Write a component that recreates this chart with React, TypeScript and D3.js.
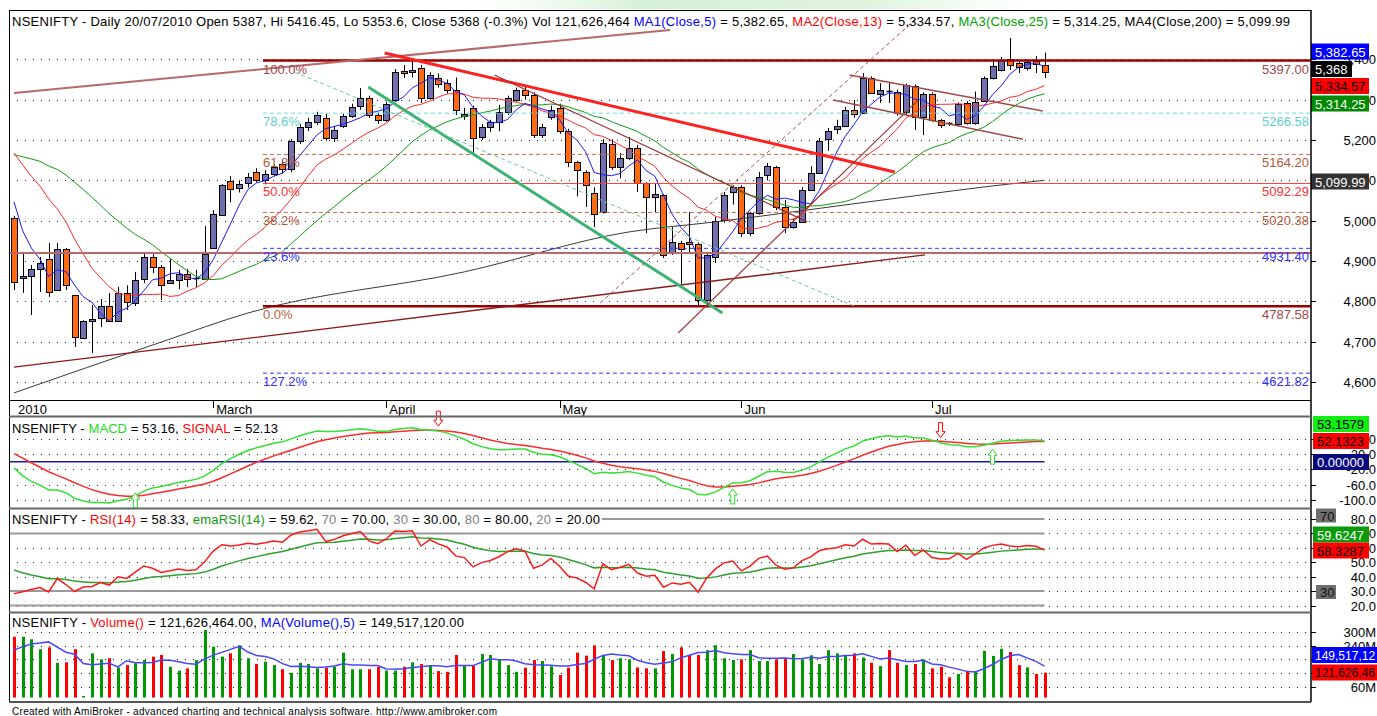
import React from 'react';
import * as d3 from 'd3';

const W = 1377;
const H = 716;
const FONT = '"Liberation Sans", Arial, Helvetica, sans-serif';

// ---------------- data ----------------
const opens = [5007,4858,4863,4880,4905,4828,4930,4816,4709,4752,4759,4788,4751,4821,4796,4855,4910,4885,4845,4853,4868,4856,4855,4932,5014,5098,5081,5093,5120,5100,5116,5140,5128,5198,5231,5245,5255,5205,5235,5260,5284,5304,5262,5250,5300,5371,5368,5378,5304,5354,5341,5324,5260,5279,5207,5232,5245,5269,5300,5324,5312,5212,5257,5279,5222,5145,5121,5069,5021,5190,5133,5155,5180,5093,5059,5064,4920,4945,4946,4942,4803,4910,5002,5071,5083,4969,5019,5113,5133,5034,4984,4997,5076,5118,5202,5227,5235,5274,5267,5354,5314,5322,5319,5269,5334,5257,5314,5250,5241,5240,5292,5242,5297,5354,5374,5401,5391,5378,5396,5387];
const highs = [5012,4922,4890,4910,4945,4945,4932,4816,4753,4791,4806,4821,4836,4840,4873,4922,4917,4890,4907,4878,4880,4878,4987,5026,5091,5111,5100,5118,5130,5125,5140,5148,5202,5240,5255,5270,5265,5235,5265,5290,5329,5310,5268,5295,5376,5386,5399,5386,5368,5365,5350,5355,5280,5285,5240,5250,5287,5310,5330,5335,5318,5240,5285,5290,5228,5148,5125,5083,5202,5202,5168,5207,5188,5095,5093,5066,4984,4950,5021,4946,4920,5009,5071,5088,5088,5022,5121,5143,5136,5051,5005,5083,5135,5205,5230,5250,5282,5299,5366,5358,5341,5341,5325,5340,5338,5318,5318,5252,5245,5293,5296,5320,5358,5396,5406,5453,5394,5396,5408,5416.45];
const lows = [4828,4821,4766,4823,4811,4828,4828,4687,4707,4672,4736,4749,4751,4779,4788,4845,4870,4803,4845,4830,4835,4835,4855,4932,5014,5046,5070,5082,5095,5090,5110,5118,5120,5190,5222,5238,5198,5195,5230,5255,5275,5255,5240,5245,5295,5354,5355,5292,5300,5330,5315,5262,5250,5168,5200,5220,5222,5262,5295,5300,5205,5205,5250,5215,5133,5060,5034,4984,5018,5126,5105,5150,5071,4969,5021,4907,4915,4840,4922,4786,4796,4895,4995,5040,4960,4962,5015,5100,5026,4969,4980,4995,5074,5116,5173,5215,5232,5255,5265,5314,5292,5292,5260,5262,5225,5212,5245,5230,5235,5236,5238,5238,5295,5350,5370,5374,5366,5372,5366,5353.6];
const closes = [4848,4863,4880,4895,4823,4930,4840,4712,4751,4756,4788,4751,4821,4798,4853,4910,4885,4840,4853,4868,4855,4859,4917,5017,5088,5079,5091,5108,5102,5116,5134,5128,5198,5231,5245,5262,5205,5225,5260,5282,5304,5262,5249,5290,5368,5366,5374,5304,5361,5339,5323,5274,5264,5205,5232,5245,5269,5304,5324,5312,5212,5232,5274,5222,5145,5126,5088,5017,5193,5133,5155,5180,5093,5059,5066,4915,4947,4930,4943,4803,4915,5000,5064,5083,4969,5019,5108,5135,5034,4984,4997,5076,5118,5198,5222,5235,5274,5264,5354,5317,5324,5320,5267,5336,5257,5314,5250,5237,5239,5289,5242,5294,5354,5383,5398,5386,5381,5393,5388,5368];
// volume in millions
const volumes = [278,278,267,224,232,165,167,224,21,206,180,185,145,155,163,177,192,199,148,131,141,177,307,235,192,206,241,185,160,170,155,137,122,165,160,141,144,148,209,137,137,137,148,131,131,148,167,160,155,129,126,199,155,155,203,199,180,155,126,144,177,173,150,112,144,209,196,241,195,177,185,180,145,141,141,216,203,232,198,199,220,241,185,177,180,220,173,173,180,185,203,180,198,160,220,206,199,206,188,165,151,220,165,155,160,180,141,148,102,117,131,129,217,195,226,212,155,145,117,122];
// closes / volumes before the first visible bar (estimated from where the averages start)
const priorCloses = [4990,5010,5045,5110,5145,5180,5169,5201,5232,5278,5281,5263,5244,5249,5210,5233,5259,5252,5274,5226,5221,5094,5036,5034];
const priorVolumes = [200,210,205,206];
// indicator states just before the first bar (read from starting levels)
const macdSeed = [5190, 5178, 30]; // ema12, ema26, signal
const rsiSeed = [19, 34, 47.2]; // avgGain, avgLoss, emaRSI
// 200-day MA read at a few bars
const ma200Bars = [0, 17, 27, 52, 71, 81, 102, 115, 119];
const ma200Values = [4573, 4699, 4771, 4873, 4972, 4997, 5056, 5091, 5100];

const monthLabels = ['2010', 'March', 'April', 'May', 'Jun', 'Jul'];
const monthBars = [0, 23, 43, 63, 84, 106];
const priceTicks = [5400, 5300, 5200, 5100, 5000, 4900, 4800, 4700, 4600];
const macdTicks = [60, 20, -20, -60, -100];
const rsiTicks = [80, 70, 60, 50, 40, 30, 20];
const rsiBands = [80, 70, 30, 20];
const volTicks = [300, 240, 180, 120, 60];
const volTickLabels = ['300M', '240M', '', '', '60M'];

const fibLabels = ['100.0%', '78.6%', '61.8%', '50.0%', '38.2%', '23.6%', '0.0%', '127.2%'];
const fibPrices = [5397.0, 5266.58, 5164.2, 5092.29, 5020.38, 4931.4, 4787.58, 4621.82];
const fibStartBar = 28.75;
const fibColors = ['#990000', '#66dede', '#cc6a44', '#ff3b3b', '#cc6a44', '#3535ff', '#990000', '#3535ff'];
const fibTextColors = ['#a04848', '#5fd0d0', '#b4583a', '#ff3030', '#b4583a', '#3030ff', '#a04848', '#3030ff'];
const fibLeftTextColors = ['#a04848', '#5fd0d0', '#b4583a', '#ff3030', '#b4583a', '#3030ff', '#b4643c', '#3030ff'];
const fibDash = ['', '4 3', '4 3', '', '4 3', '4 3', '', '4 3'];
const fibWidth = [2.5, 1, 1, 1, 1, 1, 2.5, 1];

// drawn studies: [bar1, price1, bar2, price2]
const trendLines = [
  { pts: [0, 5316.5, 75.75, 5472.7], color: '#b86a6a', w: 2, dash: '' },
  { pts: [0, 4637, 105.2, 4915], color: '#8b1a1a', w: 1.3, dash: '' },
  { pts: [42.8, 5415.7, 101.7, 5120.7], color: '#ff2020', w: 3, dash: '' },
  { pts: [40.9, 5331.4, 81.8, 4771], color: '#3cb371', w: 3, dash: '' },
  { pts: [32.4, 5368.6, 97.3, 4786], color: '#66cc99', w: 1, dash: '4 3' },
  { pts: [67.7, 4795.9, 104.4, 5505], color: '#b05050', w: 1, dash: '4 3' },
  { pts: [76.7, 4721.5, 104.4, 5299], color: '#a03a3a', w: 1.2, dash: '' },
  { pts: [55.5, 5361, 91.6, 4997], color: '#9b3030', w: 1.2, dash: '' },
  { pts: [96.5, 5361, 118.8, 5272], color: '#a04848', w: 1.5, dash: '' },
  { pts: [94.6, 5299, 116.5, 5202], color: '#a04848', w: 1.5, dash: '' },
];
const horizLinePrice = 4920;
const sellBars = [49, 107];
const buyBars = [14, 83, 113];

// ---------------- helpers ----------------
const sma = (series: number[], prior: number[], n: number) => {
  const all = [...prior, ...series];
  const off = prior.length;
  return series.map((_, i) => {
    let s = 0;
    for (let k = off + i - n + 1; k <= off + i; k++) s += all[k];
    return s / n;
  });
};
const emaSeeded = (series: number[], n: number, seed: number) => {
  const k = 2 / (n + 1);
  let e = seed;
  return series.map((v) => (e = e + k * (v - e)));
};

const ma5 = sma(closes, priorCloses, 5);
const ma13 = sma(closes, priorCloses, 13);
const ma25 = sma(closes, priorCloses, 25);
const volMa = sma(volumes, priorVolumes, 5);
const ema12 = emaSeeded(closes, 12, macdSeed[0]);
const ema26 = emaSeeded(closes, 26, macdSeed[1]);
const macd = ema12.map((v, i) => v - ema26[i]);
const signal = emaSeeded(macd, 9, macdSeed[2]);
const rsi = (() => {
  let ag = rsiSeed[0];
  let al = rsiSeed[1];
  let prev = priorCloses[priorCloses.length - 1];
  return closes.map((c) => {
    const ch = c - prev;
    prev = c;
    ag = (ag * 13 + Math.max(ch, 0)) / 14;
    al = (al * 13 + Math.max(-ch, 0)) / 14;
    return 100 - 100 / (1 + ag / al);
  });
})();
const emaRsi = emaSeeded(rsi, 14, rsiSeed[2]);

const L = 9;
const R = 1311;

function Box({ x, y, w, h = 16, bg, fg, text, fs = 13, pad = 4 }: any) {
  return (
    <g>
      <rect x={x} y={y - h / 2} width={w} height={h} fill={bg} />
      <text x={x + pad} y={y + 0.5} dominantBaseline="central" fill={fg} fontSize={fs}>{text}</text>
    </g>
  );
}

export default function App() {
  const n = closes.length;
  const x = d3.scaleLinear().domain([0, n - 1]).range([14, 1044.5]);
  const yP = d3.scaleLinear().domain([5200, 4600]).range([140, 382]);
  const yM = d3.scaleLinear().domain([60, -100]).range([438.5, 500.2]);
  const yR = d3.scaleLinear().domain([80, 20]).range([519, 605.5]);
  const yV = d3.scaleLinear().domain([300, 60]).range([631.7, 687]);
  const volBase = 697.5;
  const crisp = (v: number) => Math.round(v) + 0.5;

  const mkLine = (ys: (v: number) => number) => d3.line<number>().x((_, i) => x(i)).y((v) => ys(v));
  const ma200Path = d3
    .line<[number, number]>()
    .x((d) => x(d[0]))
    .y((d) => yP(d[1]))
    .curve(d3.curveMonotoneX)(ma200Bars.map((b, i) => [b, ma200Values[i]] as [number, number]));

  const dotted = (y: number, key: string, x1 = L, x2 = R) => (
    <line key={key} x1={x1} x2={x2} y1={crisp(y)} y2={crisp(y)} stroke="#222" strokeDasharray="1 7" strokeWidth={1} shapeRendering="crispEdges" />
  );
  const tick = (y: number, key: string) => (
    <line key={key} x1={R} x2={R + 5} y1={crisp(y)} y2={crisp(y)} stroke="#000" shapeRendering="crispEdges" />
  );
  const axisText = (y: number, t: string, key: string) => (
    <text key={key} x={1376} y={y + 0.5} textAnchor="end" dominantBaseline="central" fontSize={13} fill="#000">{t}</text>
  );

  const arrow = (cx: number, tip: number, down: boolean, color: string, key: string) => {
    const s = down ? -1 : 1;
    const pts = [
      [cx - 2, tip + s * 15], [cx + 2, tip + s * 15], [cx + 2, tip + s * 6], [cx + 4.5, tip + s * 6],
      [cx, tip], [cx - 4.5, tip + s * 6], [cx - 2, tip + s * 6],
    ].map((p) => p.join(',')).join(' ');
    return <polygon key={key} points={pts} fill="#fff" stroke={color} strokeWidth={1} />;
  };

  return (
    <svg width={W} height={H} style={{ position: 'absolute', left: 0, top: 0, background: '#fff', fontFamily: FONT }}>
      <defs>
        <clipPath id="clipP"><rect x={L} y={10} width={R - L} height={390} /></clipPath>
        <clipPath id="clipM"><rect x={L} y={417} width={R - L} height={91} /></clipPath>
        <clipPath id="clipR"><rect x={L} y={509} width={R - L} height={103} /></clipPath>
        <clipPath id="clipV"><rect x={L} y={613} width={R - L} height={89} /></clipPath>
        <linearGradient id="topGlow" x1="0" x2="1" y1="0" y2="0">
          <stop offset="0" stopColor="#e6f7e6" stopOpacity={0} />
          <stop offset="0.3" stopColor="#d6f2d6" stopOpacity={1} />
          <stop offset="0.7" stopColor="#dcf4dc" stopOpacity={1} />
          <stop offset="1" stopColor="#e6f7e6" stopOpacity={0} />
        </linearGradient>
      </defs>
      <rect x={0} y={0} width={W} height={H} fill="#fff" />
      <rect x={470} y={0} width={560} height={9} fill="url(#topGlow)" />

      {/* ---------- price panel ---------- */}
      {priceTicks.map((t) => dotted(yP(t), 'pg' + t))}
      <g clipPath="url(#clipP)">
        {closes.map((c, i) => {
          const o = opens[i];
          const up = c > o || (c === o && i > 0 && c >= closes[i - 1]);
          const cx = crisp(x(i));
          const top = Math.round(yP(Math.max(o, c)));
          const bot = Math.round(yP(Math.min(o, c)));
          return (
            <g key={'c' + i}>
              <line x1={cx} x2={cx} y1={yP(highs[i])} y2={yP(lows[i])} stroke="#000" strokeWidth={1} />
              {bot - top < 2 ? (
                <line x1={cx - 3} x2={cx + 3} y1={top + 0.5} y2={top + 0.5} stroke="#000" strokeWidth={1.5} />
              ) : (
                <rect x={cx - 3} y={top + 0.5} width={6} height={bot - top} fill={up ? '#6f6fb0' : '#ff6a13'} stroke="#000" strokeWidth={1} />
              )}
            </g>
          );
        })}
        <path d={ma200Path || ''} fill="none" stroke="#3a3a3a" strokeWidth={1} />
        <path d={mkLine(yP)(ma25) || ''} fill="none" stroke="#119911" strokeWidth={1} />
        <path d={mkLine(yP)(ma13) || ''} fill="none" stroke="#ff2a2a" strokeWidth={1} />
        <path d={mkLine(yP)(ma5) || ''} fill="none" stroke="#1a1aff" strokeWidth={1} />

        <line x1={L} x2={R} y1={yP(horizLinePrice)} y2={yP(horizLinePrice)} stroke="#b86a6a" strokeWidth={2} />
        {fibPrices.map((p, k) => (
          <line key={'fl' + k} x1={x(fibStartBar)} x2={R} y1={yP(p)} y2={yP(p)} stroke={fibColors[k]} strokeWidth={fibWidth[k]} strokeDasharray={fibDash[k] || undefined} />
        ))}
        {trendLines.map((t, k) => (
          <line key={'tl' + k} x1={x(t.pts[0])} y1={yP(t.pts[1])} x2={x(t.pts[2])} y2={yP(t.pts[3])} stroke={t.color} strokeWidth={t.w} strokeDasharray={t.dash || undefined} />
        ))}
        {fibPrices.map((p, k) => (
          <g key={'ft' + k}>
            <text x={x(fibStartBar)} y={yP(p) + 8.5} dominantBaseline="central" fontSize={13} fill={fibLeftTextColors[k]}>{fibLabels[k]}</text>
            <text x={R - 2} y={yP(p) + 8.5} dominantBaseline="central" textAnchor="end" fontSize={13} fill={fibTextColors[k]}>{p.toFixed(2)}</text>
          </g>
        ))}
      </g>
      <text x={12} y={21} dominantBaseline="central" fontSize={13} textLength={1278} lengthAdjust="spacing" style={{ whiteSpace: 'pre' }}>
        <tspan fill="#000">{'NSENIFTY - Daily 20/07/2010 Open 5387, Hi 5416.45, Lo 5353.6, Close 5368 (-0.3%) Vol 121,626,464 '}</tspan>
        <tspan fill="#0000ff">MA1(Close,5)</tspan>
        <tspan fill="#000">{' = 5,382.65, '}</tspan>
        <tspan fill="#ff0000">MA2(Close,13)</tspan>
        <tspan fill="#000">{' = 5,334.57, '}</tspan>
        <tspan fill="#00a000">MA3(Close,25)</tspan>
        <tspan fill="#000">{' = 5,314.25, MA4(Close,200) = 5,099.99'}</tspan>
      </text>
      {priceTicks.map((t) => tick(yP(t), 'pt' + t))}
      {priceTicks.map((t) => axisText(yP(t), d3.format(',')(t), 'pa' + t))}
      <Box x={R} y={51.5} w={58} bg="#0000ff" fg="#fff" text="5,382.65" />
      <Box x={R} y={69} w={41} bg="#000" fg="#fff" text="5,368" />
      <Box x={R} y={86} w={58} bg="#ff0000" fg="#000" text="5,334.57" />
      <Box x={R} y={103.5} w={58} bg="#008a00" fg="#fff" text="5,314.25" />
      <Box x={R} y={181.5} w={58} bg="#333" fg="#fff" text="5,099.99" />

      {/* ---------- date strip ---------- */}
      {monthBars.map((b, k) => (
        <g key={'m' + k}>
          {k > 0 && <line x1={crisp(x(b))} x2={crisp(x(b))} y1={401} y2={408} stroke="#000" shapeRendering="crispEdges" />}
          <text x={x(b) + (k === 0 ? 4 : 3)} y={409} dominantBaseline="central" fontSize={13} fill="#000">{monthLabels[k]}</text>
        </g>
      ))}

      {/* ---------- MACD panel ---------- */}
      {macdTicks.map((t) => dotted(yM(t), 'mg' + t))}
      <g clipPath="url(#clipM)">
        <line x1={L + 1} x2={x(n - 1)} y1={yM(0)} y2={yM(0)} stroke="#1a1aa0" strokeWidth={1.5} />
        <path d={mkLine(yM)(signal) || ''} fill="none" stroke="#ff2a2a" strokeWidth={1.5} />
        <path d={mkLine(yM)(macd) || ''} fill="none" stroke="#33e033" strokeWidth={1.5} />
      </g>
      {sellBars.map((b) => arrow(x(b), yM(macd[b]) - 5, true, '#ff0000', 's' + b))}
      {buyBars.map((b) => arrow(x(b), Math.min(yM(macd[b]) + 6, 493), false, '#22dd22', 'b' + b))}
      <text x={12} y={428} dominantBaseline="central" fontSize={13} textLength={266} lengthAdjust="spacing" style={{ whiteSpace: 'pre' }}>
        <tspan fill="#000">{'NSENIFTY - '}</tspan>
        <tspan fill="#22dd22">MACD</tspan>
        <tspan fill="#000">{' = 53.16, '}</tspan>
        <tspan fill="#ff0000">SIGNAL</tspan>
        <tspan fill="#000">{' = 52.13'}</tspan>
      </text>
      {macdTicks.map((t) => tick(yM(t), 'mt' + t))}
      {macdTicks.map((t) => axisText(yM(t), t.toFixed(1), 'ma' + t))}
      <Box x={R + 2} y={424} w={56} bg="#11ee11" fg="#000" text="53.1579" />
      <Box x={R + 2} y={441} w={56} bg="#ff0000" fg="#000" text="52.1323" />
      <Box x={R + 2} y={462} w={56} bg="#0a0a80" fg="#fff" text="0.00000" />

      {/* ---------- RSI panel ---------- */}
      {rsiTicks.map((t) => dotted(yR(t), 'rg' + t))}
      {rsiBands.map((t) => (
        <line key={'rb' + t} x1={L + 1} x2={x(n - 1)} y1={yR(t)} y2={yR(t)} stroke="#9a9a9a" strokeWidth={2} />
      ))}
      <g clipPath="url(#clipR)">
        <path d={mkLine(yR)(emaRsi) || ''} fill="none" stroke="#2f9f2f" strokeWidth={1.5} />
        <path d={mkLine(yR)(rsi) || ''} fill="none" stroke="#ff1a1a" strokeWidth={1.5} />
      </g>
      <rect x={10} y={512} width={592} height={14} fill="#fff" />
      <text x={12} y={519} dominantBaseline="central" fontSize={13} textLength={588} lengthAdjust="spacing" style={{ whiteSpace: 'pre' }}>
        <tspan fill="#000">{'NSENIFTY - '}</tspan>
        <tspan fill="#ff0000">RSI(14)</tspan>
        <tspan fill="#000">{' = 58.33, '}</tspan>
        <tspan fill="#119911">emaRSI(14)</tspan>
        <tspan fill="#000">{' = 59.62, '}</tspan>
        <tspan fill="#808080">70</tspan>
        <tspan fill="#000">{' = 70.00, '}</tspan>
        <tspan fill="#808080">30</tspan>
        <tspan fill="#000">{' = 30.00, '}</tspan>
        <tspan fill="#808080">80</tspan>
        <tspan fill="#000">{' = 80.00, '}</tspan>
        <tspan fill="#808080">20</tspan>
        <tspan fill="#000">{' = 20.00'}</tspan>
      </text>
      {rsiTicks.map((t) => tick(yR(t), 'rt' + t))}
      {rsiTicks.map((t) => axisText(yR(t), t.toFixed(1), 'ra' + t))}
      <Box x={R + 5} y={515.5} w={20} h={14} bg="#6e6e6e" fg="#111" text="70" />
      <Box x={R + 2} y={534.5} w={56} bg="#0a9a0a" fg="#fff" text="59.6247" />
      <Box x={R + 2} y={550.5} w={56} bg="#ff0000" fg="#000" text="58.3287" />
      <Box x={R + 5} y={592} w={20} h={14} bg="#6e6e6e" fg="#111" text="30" />

      {/* ---------- Volume panel ---------- */}
      {volTicks.map((t) => dotted(yV(t), 'vg' + t))}
      <g clipPath="url(#clipV)">
        {volumes.map((v, i) => {
          const up = closes[i] > opens[i] || (closes[i] === opens[i] && i > 0 && closes[i] >= closes[i - 1]);
          const cx = Math.round(x(i));
          return <rect key={'v' + i} x={cx - 1} y={yV(v)} width={3} height={Math.max(0, volBase - yV(v))} fill={up ? '#009a00' : '#ff0000'} />;
        })}
        <path d={mkLine(yV)(volMa) || ''} fill="none" stroke="#4646ff" strokeWidth={1.5} />
      </g>
      <text x={12} y={622} dominantBaseline="central" fontSize={13} textLength={452} lengthAdjust="spacing" style={{ whiteSpace: 'pre' }}>
        <tspan fill="#000">{'NSENIFTY - '}</tspan>
        <tspan fill="#ff0000">Volume()</tspan>
        <tspan fill="#000">{' = 121,626,464.00, '}</tspan>
        <tspan fill="#0000ff">MA(Volume(),5)</tspan>
        <tspan fill="#000">{' = 149,517,120.00'}</tspan>
      </text>
      {volTicks.map((t) => tick(yV(t), 'vt' + t))}
      {volTicks.map((t, k) => (volTickLabels[k] ? axisText(yV(t), volTickLabels[k], 'va' + t) : null))}
      <Box x={R + 1} y={655} w={65} bg="#0000ff" fg="#fff" text="149,517,12" fs={12} pad={3} />
      <Box x={R + 1} y={672.5} w={65} bg="#ff0000" fg="#000" text="121,626,46" fs={12} pad={3} />

      {/* ---------- frames ---------- */}
      <line x1={L} x2={R} y1={10.5} y2={10.5} stroke="#000" strokeWidth={1} />
      <line x1={L + 0.5} x2={L + 0.5} y1={10} y2={702} stroke="#000" strokeWidth={1} />
      <line x1={R} x2={R} y1={10} y2={702} stroke="#000" strokeWidth={1.5} />
      <line x1={L} x2={R} y1={400.5} y2={400.5} stroke="#000" strokeWidth={1} />
      <line x1={L} x2={R} y1={416.5} y2={416.5} stroke="#666" strokeWidth={2} />
      <line x1={L} x2={R} y1={508.5} y2={508.5} stroke="#666" strokeWidth={2} />
      <line x1={L} x2={R} y1={612.5} y2={612.5} stroke="#666" strokeWidth={2} />
      <line x1={L} x2={R} y1={702} y2={702} stroke="#555" strokeWidth={2} />

      <text x={12} y={711} dominantBaseline="central" fontSize={10} textLength={485} lengthAdjust="spacing" fill="#000">
        Created with AmiBroker - advanced charting and technical analysis software. http://www.amibroker.com
      </text>
    </svg>
  );
}
